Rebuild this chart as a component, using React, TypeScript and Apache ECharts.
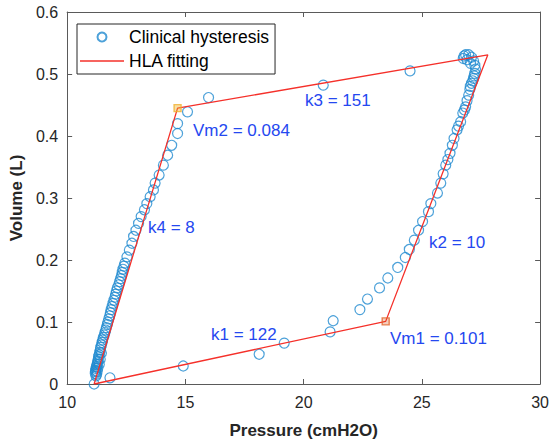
import React, { useEffect, useRef } from "react";
import * as echarts from "echarts";

const FONT = "'Liberation Sans', Arial, Helvetica, sans-serif";

// Clinical hysteresis loop (Pressure cmH2O, Volume L)
const lowerBranch: number[][] = [
  [11.14, 0.0], [11.81, 0.01], [14.91, 0.029], [18.12, 0.048], [19.18, 0.066],
  [21.12, 0.084], [21.25, 0.102], [22.38, 0.12], [22.7, 0.137], [23.21, 0.155],
];
const rightBranch: number[][] = [
  [23.56, 0.171], [23.98, 0.188], [24.3, 0.204], [24.47, 0.217], [24.68, 0.232],
  [24.86, 0.248], [25.03, 0.262], [25.28, 0.278], [25.38, 0.291], [25.66, 0.308],
  [25.8, 0.324], [25.9, 0.339], [26.01, 0.353], [26.1, 0.362], [26.19, 0.372],
  [26.29, 0.385], [26.36, 0.396], [26.49, 0.41], [26.55, 0.416], [26.64, 0.423],
  [26.73, 0.437], [26.8, 0.442], [26.85, 0.447], [26.91, 0.457], [26.98, 0.466],
  [27.03, 0.475], [27.05, 0.48], [27.1, 0.485], [27.15, 0.489], [27.19, 0.493],
  [27.21, 0.497], [27.24, 0.501], [27.27, 0.508], [27.24, 0.514], [27.19, 0.521],
  [27.06, 0.517], [27.1, 0.527], [26.98, 0.531], [26.91, 0.523], [26.85, 0.531],
  [26.78, 0.529], [26.75, 0.525],
];
const topBranch: number[][] = [
  [24.5, 0.505], [20.83, 0.482], [15.98, 0.462], [15.09, 0.439],
];
const leftBranch: number[][] = [
  [14.67, 0.42], [14.67, 0.404], [14.42, 0.385], [14.25, 0.369], [14.07, 0.353],
  [13.89, 0.337], [13.72, 0.324], [13.65, 0.313], [13.51, 0.302], [13.37, 0.291],
  [13.27, 0.281], [13.13, 0.27], [13.02, 0.259], [12.91, 0.248], [12.81, 0.238],
  [12.74, 0.227], [12.63, 0.216], [12.53, 0.205], [12.44, 0.195], [12.4, 0.19],
  [12.36, 0.185], [12.33, 0.18], [12.3, 0.175], [12.26, 0.17], [12.22, 0.165],
  [12.18, 0.16], [12.12, 0.155], [12.08, 0.15], [12.05, 0.145], [12.02, 0.14],
  [11.98, 0.135], [11.94, 0.13], [11.9, 0.125], [11.86, 0.12], [11.83, 0.115],
  [11.8, 0.11], [11.76, 0.105], [11.72, 0.1], [11.7, 0.096], [11.66, 0.091],
  [11.63, 0.087], [11.6, 0.083], [11.57, 0.079], [11.53, 0.075], [11.5, 0.071],
  [11.48, 0.067], [11.45, 0.063], [11.42, 0.059], [11.4, 0.055], [11.38, 0.051],
  [11.35, 0.047], [11.33, 0.044], [11.31, 0.04], [11.3, 0.037], [11.28, 0.034],
  [11.26, 0.031], [11.24, 0.028], [11.22, 0.025], [11.21, 0.022], [11.2, 0.02],
  [11.19, 0.017], [11.45, 0.05], [11.4, 0.04], [11.36, 0.032], [11.3, 0.026],
  [11.27, 0.02], [11.25, 0.016], [11.22, 0.013],
];

// HLA fitting polygon vertices
const hlaFit: number[][] = [
  [11.14, 0.0], [23.47, 0.101], [27.79, 0.531], [14.67, 0.445], [11.14, 0.0],
];
const vm1Point: number[] = [23.47, 0.101];
const vm2Point: number[] = [14.67, 0.445];

const xTicks = { min: 10, max: 30, interval: 5 };
const yTicks = { min: 0, max: 0.6, interval: 0.1 };

const annotations = [
  { text: "k3 = 151", x: 305, y: 100 },
  { text: "Vm2 = 0.084", x: 193, y: 130 },
  { text: "k4 = 8", x: 148, y: 227 },
  { text: "k2 = 10", x: 429, y: 242 },
  { text: "k1 = 122", x: 211, y: 334 },
  { text: "Vm1 = 0.101", x: 390, y: 338 },
];

const BLUE = "#1f8ad0";
const RED = "#f5302a";
const AXIS = "#5a5a5a";
const TEXT = "#262626";

export default function App() {
  const ref = useRef<HTMLDivElement>(null);
  useEffect(() => {
    if (!ref.current) return;
    const chart = echarts.init(ref.current, undefined, { renderer: "svg" });
    const hidden = { show: false };
    const baseX = {
      type: "value" as const,
      min: xTicks.min,
      max: xTicks.max,
      interval: xTicks.interval,
      splitLine: hidden,
      axisLine: { show: true, onZero: false, lineStyle: { color: AXIS, width: 1 } },
      axisTick: { show: true, inside: true, length: 5, lineStyle: { color: AXIS } },
    };
    const baseY = {
      type: "value" as const,
      min: yTicks.min,
      max: yTicks.max,
      interval: yTicks.interval,
      splitLine: hidden,
      axisLine: { show: true, onZero: false, lineStyle: { color: AXIS, width: 1 } },
      axisTick: { show: true, inside: true, length: 5, lineStyle: { color: AXIS } },
    };
    chart.setOption({
      animation: false,
      backgroundColor: "#ffffff",
      grid: { left: 64.5, right: 10, top: 12, bottom: 60, containLabel: false },
      xAxis: [
        {
          ...baseX,
          position: "bottom",
          name: "Pressure (cmH2O)",
          nameLocation: "middle",
          nameGap: 38,
          nameTextStyle: { fontFamily: FONT, fontSize: 17, fontWeight: "bold", color: TEXT },
          axisLabel: { fontFamily: FONT, fontSize: 16, color: TEXT, margin: 10 },
        },
        { ...baseX, position: "top", axisLabel: hidden },
      ],
      yAxis: [
        {
          ...baseY,
          position: "left",
          name: "Volume (L)",
          nameLocation: "middle",
          nameGap: 42,
          nameTextStyle: { fontFamily: FONT, fontSize: 17, fontWeight: "bold", color: TEXT },
          axisLabel: { fontFamily: FONT, fontSize: 16, color: TEXT, margin: 9 },
        },
        { ...baseY, position: "right", axisLabel: hidden },
      ],
      legend: {
        orient: "vertical",
        left: 77,
        top: 24,
        data: [
          { name: "Clinical hysteresis" },
          { name: "HLA fitting", icon: "path://M0,0 L44,0 L44,1.3 L0,1.3 Z" },
        ],
        itemWidth: 44,
        itemHeight: 9,
        itemGap: 6,
        padding: [4, 6, 4, 3],
        borderColor: TEXT,
        borderWidth: 1,
        borderRadius: 0,
        backgroundColor: "#ffffff",
        textStyle: { fontFamily: FONT, fontSize: 17.5, color: "#000" },
      },
      series: [
        {
          name: "Clinical hysteresis",
          type: "scatter",
          symbol: "circle",
          symbolSize: 10,
          itemStyle: { color: "rgba(255,255,255,0)", borderColor: BLUE, borderWidth: 1.2 },
          data: [...lowerBranch, ...rightBranch, ...topBranch, ...leftBranch],
          z: 2,
        },
        {
          name: "HLA fitting",
          type: "line",
          symbol: "none",
          lineStyle: { color: RED, width: 1.3 },
          itemStyle: { color: RED },
          data: hlaFit,
          z: 3,
        },
        {
          name: "Vm1",
          type: "scatter",
          symbol: "rect",
          symbolSize: 7,
          itemStyle: { color: "rgba(217,83,25,0.35)", borderColor: "#e2652a", borderWidth: 1.4 },
          data: [vm1Point],
          z: 4,
        },
        {
          name: "Vm2",
          type: "scatter",
          symbol: "rect",
          symbolSize: 7,
          itemStyle: { color: "rgba(237,177,32,0.5)", borderColor: "#f0b030", borderWidth: 1.4 },
          data: [vm2Point],
          z: 4,
        },
      ],
      graphic: annotations.map((a) => ({
        type: "text",
        x: a.x,
        y: a.y,
        z: 10,
        style: {
          text: a.text,
          fill: "#2548f0",
          font: `17px ${FONT}`,
          verticalAlign: "middle",
          textAlign: "left",
        },
      })),
    });
    return () => chart.dispose();
  }, []);
  return (
    <div
      ref={ref}
      style={{ position: "fixed", left: 0, top: 0, width: 552, height: 444 }}
    />
  );
}
